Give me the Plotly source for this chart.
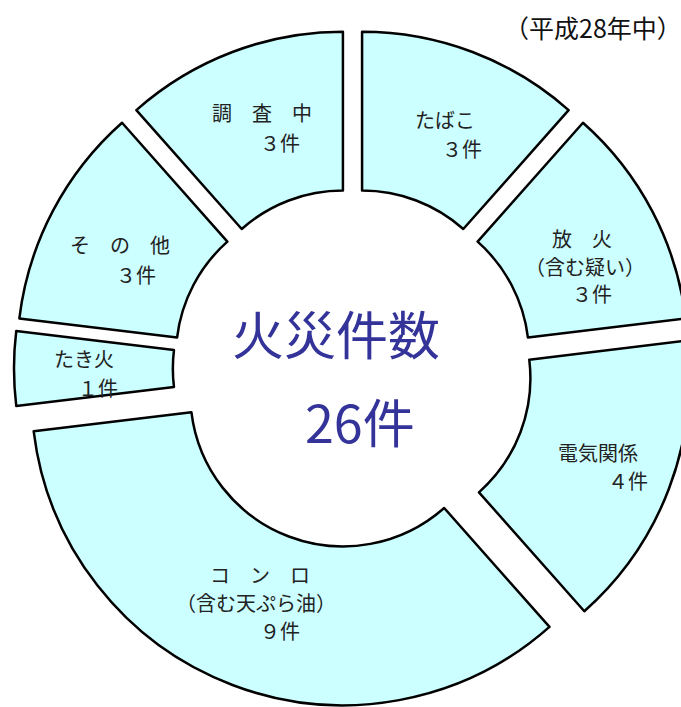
import plotly.graph_objects as go

# ---- data ----
categories = ["たばこ", "放火（含む疑い）", "電気関係", "コンロ（含む天ぷら油）", "たき火", "その他", "調査中"]
counts = [3, 3, 4, 9, 1, 3, 3]
total_label = "26件"
center_title = "火災件数"
period_label = "（平成28年中）"

# label lines for each slice (same order as categories)
label_lines = [
    ["たばこ", "３件"],
    ["放　火", "（含む疑い）", "３件"],
    ["電気関係", "４件"],
    ["コ　ン　ロ", "（含む天ぷら油）", "９件"],
    ["たき火", "１件"],
    ["そ　の　他", "３件"],
    ["調　査　中", "３件"],
]

# ---- layout positions (pixels) for slice labels ----
W, H = 705, 707
label_pos = [
    [(445, 120), (462, 148)],
    [(582, 238), (585, 266), (592, 294)],
    [(598, 452), (628, 481)],
    [(260, 574), (256, 602), (280, 630)],
    [(84, 358), (98, 387)],
    [(120, 245), (136, 274)],
    [(262, 113), (280, 142)],
]

FONT = "Noto Sans CJK JP"

fig = go.Figure(
    go.Pie(
        labels=categories,
        values=counts,
        sort=False,
        direction="clockwise",
        rotation=0,
        hole=0.49,
        pull=0.0867,
        textinfo="none",
        hoverinfo="label+value",
        marker=dict(colors=["#CCFFFF"] * len(counts), line=dict(color="black", width=2.5)),
        domain=dict(x=[0, 1], y=[0, 0.9576]),
        showlegend=False,
    )
)

annotations = []
for lines, poss in zip(label_lines, label_pos):
    for txt, (px, py) in zip(lines, poss):
        annotations.append(dict(
            x=px / W, y=1 - py / H, xref="paper", yref="paper",
            text=txt, showarrow=False, xanchor="center", yanchor="middle",
            borderpad=0,
            font=dict(family=FONT, size=20, color="#222222"),
        ))

annotations.append(dict(x=336 / W, y=1 - 333 / H, xref="paper", yref="paper",
                        text=center_title, showarrow=False, xanchor="center", yanchor="middle",
                        font=dict(family=FONT, size=52, color="#333399")))
annotations.append(dict(x=360 / W, y=1 - 420 / H, xref="paper", yref="paper",
                        text=total_label, showarrow=False, xanchor="center", yanchor="middle",
                        font=dict(family=FONT, size=52, color="#333399")))
annotations.append(dict(x=684 / W, y=1 - 27 / H, xref="paper", yref="paper",
                        text=period_label, showarrow=False, xanchor="right", yanchor="middle",
                        font=dict(family=FONT, size=25, color="#111111")))

fig.update_layout(
    width=W, height=H,
    margin=dict(l=0, r=0, t=0, b=0),
    paper_bgcolor="white", plot_bgcolor="white",
    annotations=annotations,
)

fig.write_html(
    "out.html",
    config={"displayModeBar": False},
    post_script="document.body.style.margin='0';document.body.style.overflow='hidden';",
)
